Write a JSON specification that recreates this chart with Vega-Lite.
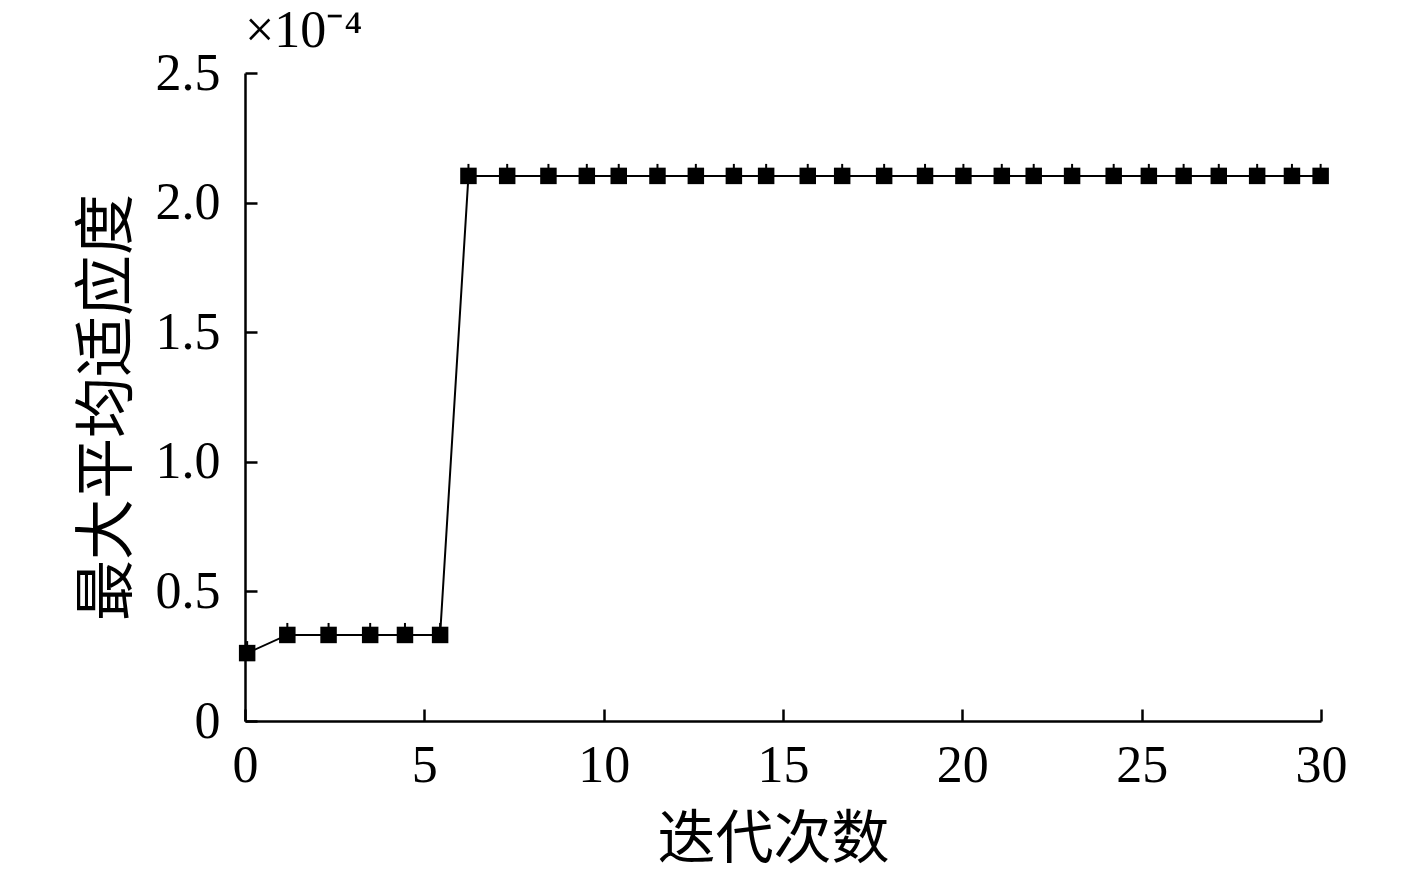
{
  "$schema": "https://vega.github.io/schema/vega-lite/v6.json",
  "width": 1076,
  "height": 648,
  "autosize": "none",
  "padding": {"left": 245, "top": 73, "right": 96, "bottom": 153},
  "background": "white",
  "config": {"view": {"stroke": null}},
  "title": {
    "text": "×10⁻⁴",
    "anchor": "start",
    "frame": "group",
    "font": "Liberation Serif",
    "fontSize": 52,
    "fontWeight": "normal",
    "color": "black",
    "offset": -11
  },
  "data": {
    "values": [
      {"iter": 0.06, "fit": 0.262},
      {"iter": 1.18, "fit": 0.332},
      {"iter": 2.33, "fit": 0.332},
      {"iter": 3.49, "fit": 0.332},
      {"iter": 4.46, "fit": 0.332},
      {"iter": 5.44, "fit": 0.332},
      {"iter": 6.23, "fit": 2.103},
      {"iter": 7.31, "fit": 2.103},
      {"iter": 8.46, "fit": 2.103},
      {"iter": 9.53, "fit": 2.103},
      {"iter": 10.42, "fit": 2.103},
      {"iter": 11.50, "fit": 2.103},
      {"iter": 12.57, "fit": 2.103},
      {"iter": 13.63, "fit": 2.103},
      {"iter": 14.53, "fit": 2.103},
      {"iter": 15.69, "fit": 2.103},
      {"iter": 16.65, "fit": 2.103},
      {"iter": 17.82, "fit": 2.103},
      {"iter": 18.96, "fit": 2.103},
      {"iter": 20.03, "fit": 2.103},
      {"iter": 21.10, "fit": 2.103},
      {"iter": 21.99, "fit": 2.103},
      {"iter": 23.06, "fit": 2.103},
      {"iter": 24.22, "fit": 2.103},
      {"iter": 25.20, "fit": 2.103},
      {"iter": 26.17, "fit": 2.103},
      {"iter": 27.15, "fit": 2.103},
      {"iter": 28.22, "fit": 2.103},
      {"iter": 29.19, "fit": 2.103},
      {"iter": 29.99, "fit": 2.103}
    ]
  },
  "encoding": {
    "x": {
      "field": "iter",
      "type": "quantitative",
      "scale": {"domain": [0, 30], "nice": false, "zero": false},
      "axis": {
        "values": [0, 5, 10, 15, 20, 25, 30],
        "grid": false,
        "domainColor": "black",
        "domainWidth": 2.5,
        "tickColor": "black",
        "tickWidth": 2.5,
        "tickSize": -12,
        "labelPadding": 31,
        "labelFont": "Liberation Serif",
        "labelFontSize": 52,
        "labelColor": "black",
        "labelFlush": false,
        "title": "迭代次数",
        "titleFont": "Noto Sans CJK SC",
        "titleFontSize": 58,
        "titleFontWeight": "normal",
        "titleColor": "black",
        "titlePadding": 20,
        "titleX": 528,
        "titleAlign": "center"
      }
    },
    "y": {
      "field": "fit",
      "type": "quantitative",
      "scale": {"domain": [0, 2.5], "nice": false},
      "axis": {
        "values": [0, 0.5, 1, 1.5, 2, 2.5],
        "labelExpr": "datum.value == 0 ? '0' : format(datum.value, '.1f')",
        "grid": false,
        "domainColor": "black",
        "domainWidth": 2.5,
        "tickColor": "black",
        "tickWidth": 2.5,
        "tickSize": -12,
        "labelPadding": 37,
        "labelFont": "Liberation Serif",
        "labelFontSize": 52,
        "labelColor": "black",
        "labelFlush": false,
        "title": "最大平均适应度",
        "titleFont": "Noto Sans CJK SC",
        "titleFontSize": 61,
        "titleFontWeight": "normal",
        "titleColor": "black",
        "titlePadding": 16,
        "titleY": 334,
        "titleAlign": "center"
      }
    }
  },
  "layer": [
    {"mark": {"type": "line", "color": "black", "strokeWidth": 2}},
    {"mark": {"type": "point", "shape": "square", "filled": true, "color": "black", "opacity": 1, "size": 272, "strokeWidth": 0}},
    {"mark": {"type": "point", "shape": "M0,-1V0", "filled": false, "color": "black", "opacity": 1, "size": 576, "strokeWidth": 2}}
  ]
}
